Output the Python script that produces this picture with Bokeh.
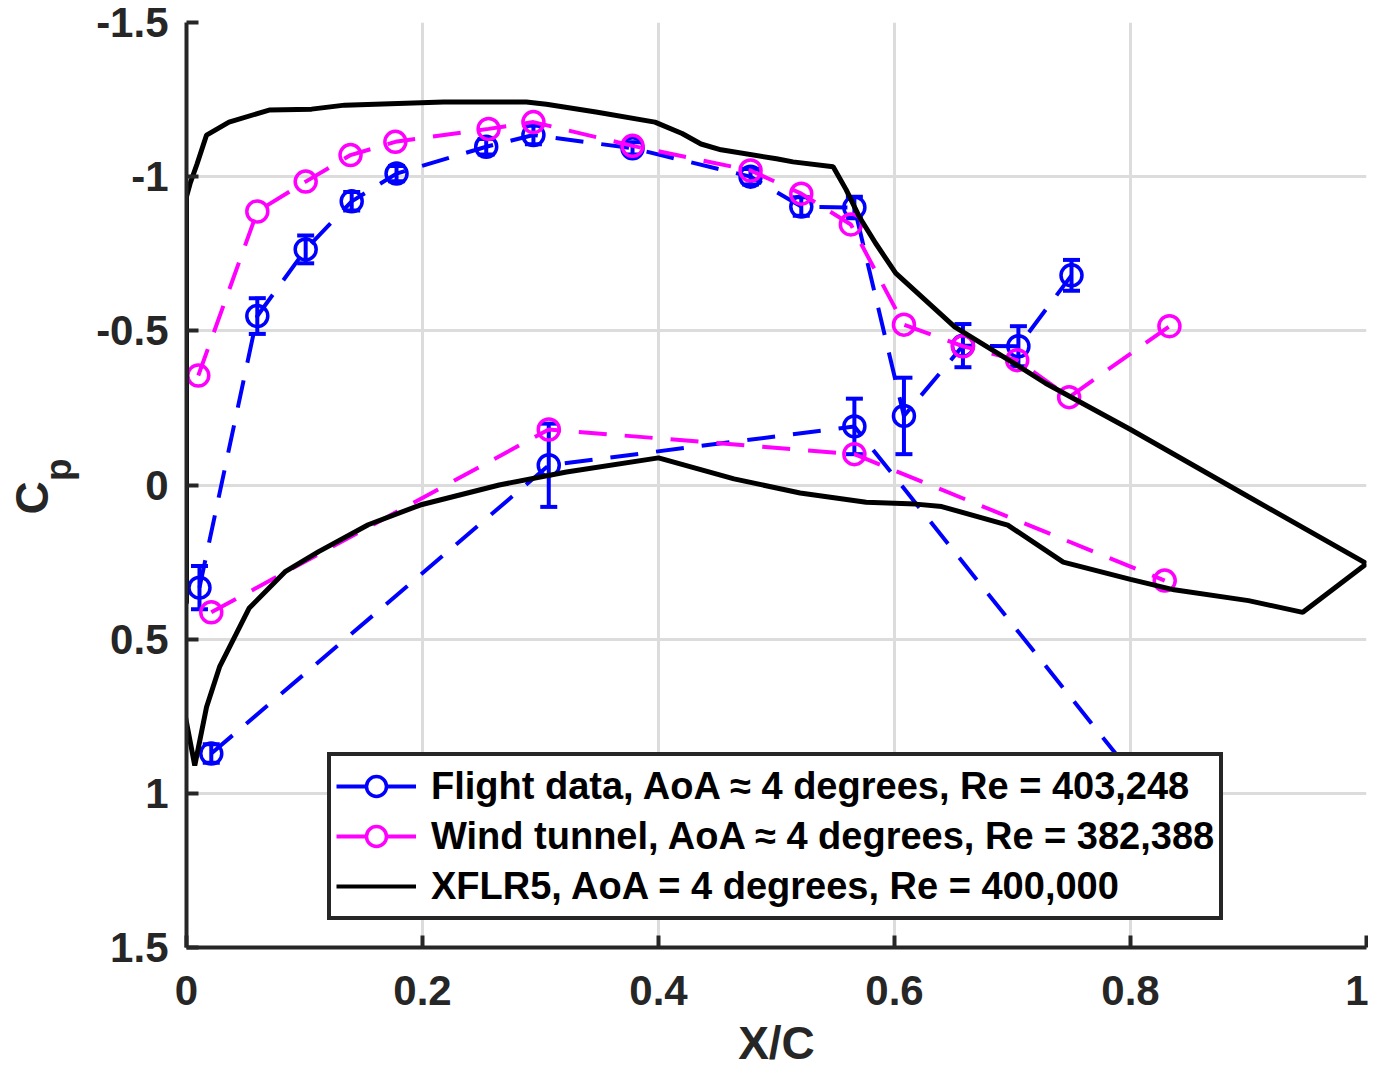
from bokeh.plotting import figure
from bokeh.models import (Range1d, FixedTicker, Whisker, TeeHead, ColumnDataSource,
                          Legend, LegendItem, LinearAxis)
from bokeh.embed import file_html
from bokeh.resources import INLINE

# ---------------- data ----------------
# Flight data, upper surface
flight_up_x = [0.011, 0.060, 0.101, 0.140, 0.178, 0.254, 0.294, 0.378, 0.478, 0.521, 0.566, 0.608, 0.658, 0.705, 0.750]
flight_up_cp = [0.333, -0.548, -0.764, -0.920, -1.010, -1.097, -1.135, -1.092, -1.000, -0.903, -0.900, -0.224, -0.452, -0.450, -0.680]
flight_up_err = [0.070, 0.058, 0.045, 0.030, 0.025, 0.025, 0.030, 0.020, 0.025, 0.030, 0.035, 0.124, 0.070, 0.065, 0.050]
# Flight data, lower surface
flight_lo_x = [0.021, 0.307, 0.566, 0.831]
flight_lo_cp = [0.871, -0.064, -0.190, 1.080]
flight_lo_err = [0.030, 0.135, 0.090, 0.050]

# Wind tunnel, upper surface
tunnel_up_x = [0.010, 0.060, 0.101, 0.139, 0.177, 0.256, 0.294, 0.378, 0.478, 0.521, 0.563, 0.608, 0.658, 0.704, 0.748, 0.833]
tunnel_up_cp = [-0.355, -0.887, -0.984, -1.070, -1.113, -1.155, -1.177, -1.100, -1.020, -0.945, -0.845, -0.520, -0.450, -0.405, -0.285, -0.515]
# Wind tunnel, lower surface
tunnel_lo_x = [0.021, 0.307, 0.566, 0.829]
tunnel_lo_cp = [0.413, -0.180, -0.100, 0.310]

# XFLR5 (closed loop: TE -> upper surface -> LE -> lower surface -> TE)
xflr_x = [1.000, 0.900, 0.800, 0.728, 0.700, 0.651, 0.601, 0.584, 0.570, 0.559, 0.548,
          0.514, 0.500, 0.453, 0.436, 0.420, 0.397, 0.347, 0.305, 0.288, 0.263, 0.218,
          0.134, 0.106, 0.070, 0.036, 0.017, 0.009, 0.003, 0.000, 0.000, -0.003, -0.003,
          0.007, 0.017, 0.028, 0.042, 0.053, 0.084, 0.112, 0.154, 0.198, 0.265, 0.322,
          0.400, 0.464, 0.520, 0.576, 0.618, 0.640, 0.696, 0.743, 0.800, 0.837, 0.900,
          0.946, 1.000]
xflr_cp = [0.255, 0.038, -0.180, -0.330, -0.398, -0.513, -0.687, -0.784, -0.871, -0.958, -1.032,
           -1.048, -1.058, -1.087, -1.106, -1.140, -1.177, -1.210, -1.235, -1.242, -1.242, -1.242,
           -1.232, -1.219, -1.216, -1.177, -1.135, -1.042, -0.977, -0.935, 0.380, 0.400, 0.710,
           0.910, 0.720, 0.590, 0.484, 0.400, 0.280, 0.216, 0.129, 0.065, 0.000, -0.042,
           -0.088, -0.020, 0.026, 0.056, 0.062, 0.070, 0.130, 0.250, 0.306, 0.340, 0.375,
           0.413, 0.255]

x_ticks = [0, 0.2, 0.4, 0.6, 0.8, 1]
x_tick_labels = ["0", "0.2", "0.4", "0.6", "0.8", "1"]
y_ticks = [-1.5, -1, -0.5, 0, 0.5, 1, 1.5]
y_tick_labels = ["-1.5", "-1", "-0.5", "0", "0.5", "1", "1.5"]

x_title = "X/C"
y_title_main = "C"
y_title_sub = "p"

legend_labels = [
    "Flight data, AoA \u2248 4 degrees, Re = 403,248",
    "Wind tunnel, AoA \u2248 4 degrees, Re = 382,388",
    "XFLR5, AoA = 4 degrees, Re = 400,000",
]

# ---------------- styles ----------------
BLUE = "#0000ff"
MAGENTA = "#ff00ff"
BLACK = "#000000"
AXC = "#262626"
FONT = "Liberation Sans"
LW = 4
DASH = "28 18"
MSIZE = 21
MLW = 3.5
NBSP = "\u00a0"

p = figure(width=1368, height=1071,
           x_range=Range1d(0, 1), y_range=Range1d(1.5, -1.5),
           output_backend="svg", toolbar_location=None,
           min_border_left=186, min_border_right=2,
           min_border_top=22, min_border_bottom=121)
p.outline_line_color = None
p.background_fill_color = "white"
p.border_fill_color = "white"

# axes
p.xaxis.ticker = FixedTicker(ticks=x_ticks)
p.xaxis.major_label_overrides = {t: s for t, s in zip(x_ticks, x_tick_labels)}
p.yaxis.ticker = FixedTicker(ticks=y_ticks)
p.yaxis.major_label_overrides = {t: s for t, s in zip(y_ticks, y_tick_labels)}
for ax in (p.xaxis, p.yaxis):
    ax.axis_line_color = AXC
    ax.axis_line_width = 4
    ax.major_tick_line_color = AXC
    ax.major_tick_line_width = 4
    ax.major_tick_in = 12
    ax.major_tick_out = 0
    ax.minor_tick_line_color = None
    ax.minor_tick_in = 0
    ax.minor_tick_out = 0
    ax.major_label_text_font = FONT
    ax.major_label_text_font_style = "bold"
    ax.major_label_text_font_size = "42px"
    ax.major_label_text_color = AXC
    ax.axis_label_text_font = FONT
    ax.axis_label_text_font_style = "bold"
    ax.axis_label_text_color = AXC
p.xaxis.major_label_standoff = 28
p.yaxis.major_label_standoff = 18
p.xaxis.axis_label = x_title
p.xaxis.axis_label_text_font_size = "46px"
p.xaxis.axis_label_standoff = 9

# y title: subscript "p" on the tick axis, "C" on an outer bare axis
p.yaxis.axis_label = NBSP * 3 + y_title_sub
p.yaxis.axis_label_text_font_size = "37px"
p.yaxis.axis_label_standoff = 14

cax = LinearAxis(ticker=FixedTicker(ticks=[]), axis_label=y_title_main + NBSP * 2,
                 axis_label_standoff=-22, axis_line_color=None,
                 major_tick_line_color=None, minor_tick_line_color=None,
                 major_tick_in=0, major_tick_out=0, minor_tick_in=0, minor_tick_out=0,
                 major_label_standoff=0,
                 axis_label_text_font=FONT, axis_label_text_font_style="bold",
                 axis_label_text_font_size="46px", axis_label_text_color=AXC)
p.add_layout(cax, "left")

p.grid.grid_line_color = "#dcdcdc"
p.grid.grid_line_width = 3


def errbars(xs, ys, es, color):
    src = ColumnDataSource(dict(x=xs, lo=[y - e for y, e in zip(ys, es)],
                                hi=[y + e for y, e in zip(ys, es)]))
    w = Whisker(source=src, base="x", lower="lo", upper="hi", dimension="height",
                line_color=color, line_width=LW,
                lower_head=TeeHead(size=17, line_color=color, line_width=LW),
                upper_head=TeeHead(size=17, line_color=color, line_width=LW))
    p.add_layout(w)


# flight data (blue)
for xs, ys, es in ((flight_up_x, flight_up_cp, flight_up_err), (flight_lo_x, flight_lo_cp, flight_lo_err)):
    errbars(xs, ys, es, BLUE)
    p.line(xs, ys, line_color=BLUE, line_width=LW, line_dash=DASH)
    p.scatter(xs, ys, marker="circle", size=MSIZE, fill_color=None, line_color=BLUE, line_width=MLW)

# wind tunnel (magenta)
for xs, ys in ((tunnel_up_x, tunnel_up_cp), (tunnel_lo_x, tunnel_lo_cp)):
    p.line(xs, ys, line_color=MAGENTA, line_width=LW, line_dash=DASH)
    p.scatter(xs, ys, marker="circle", size=MSIZE, fill_color=None, line_color=MAGENTA, line_width=MLW)

# XFLR5 (black)
p.line(xflr_x, xflr_cp, line_color=BLACK, line_width=5)

# legend-only glyphs (solid lines with markers, as in the reference legend); NaN = not drawn in the plot
nan = [float("nan")]
lb = p.line(nan, nan, line_color=BLUE, line_width=LW)
sb = p.scatter(nan, nan, marker="circle", size=MSIZE, fill_color="white", line_color=BLUE, line_width=MLW)
lm = p.line(nan, nan, line_color=MAGENTA, line_width=LW)
sm = p.scatter(nan, nan, marker="circle", size=MSIZE, fill_color="white", line_color=MAGENTA, line_width=MLW)
lk = p.line(nan, nan, line_color=BLACK, line_width=LW)

legend = Legend(items=[LegendItem(label=legend_labels[0], renderers=[lb, sb]),
                       LegendItem(label=legend_labels[1], renderers=[lm, sm]),
                       LegendItem(label=legend_labels[2], renderers=[lk])],
                location=(141, 27), orientation="vertical",
                padding=5, spacing=0, margin=0,
                glyph_width=80, glyph_height=50, label_standoff=15,
                label_text_font=FONT, label_text_font_style="bold",
                label_text_font_size="38px", label_text_color="black",
                label_text_baseline="middle",
                border_line_color=AXC, border_line_width=4, border_line_alpha=1.0,
                background_fill_color="white", background_fill_alpha=1.0)
p.add_layout(legend)

open("out.html", "w").write(file_html(p, INLINE))
